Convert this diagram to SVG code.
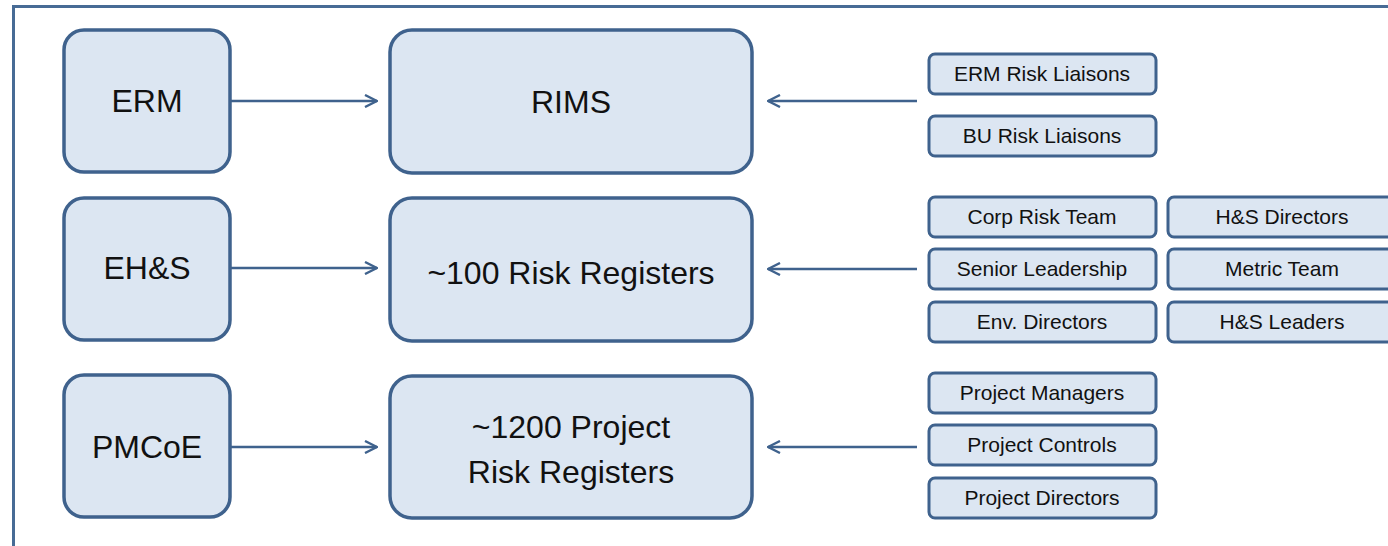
<svg xmlns="http://www.w3.org/2000/svg" width="1388" height="546" viewBox="0 0 1388 546">
<style>
.big{fill:#dce6f2;stroke:#3f628d;stroke-width:3.5}
.sm{fill:#dce6f2;stroke:#3f628d;stroke-width:3}
.t1{font-family:"Liberation Sans",Arial,sans-serif;font-size:32px;fill:#111;text-anchor:middle}
.t2{font-family:"Liberation Sans",Arial,sans-serif;font-size:21px;fill:#111;text-anchor:middle}
.c{stroke:#3f628d;stroke-width:2.5;fill:none}
</style>
<defs>
<marker id="ah" viewBox="0 0 14 14" refX="13" refY="7" markerWidth="14" markerHeight="14" markerUnits="userSpaceOnUse" orient="auto">
<path d="M1,1 L13,7 L1,13" fill="none" stroke="#3f628d" stroke-width="2.4"/>
</marker>
</defs>
<rect width="1388" height="546" fill="#fff"/>
<path d="M13.5,560 V6.5 H1400" fill="none" stroke="#476b95" stroke-width="3"/>
<g id="erm"><rect class="big" x="64" y="30" width="166" height="142" rx="20"/><text class="t1" x="147" y="112">ERM</text></g>
<g id="ehs"><rect class="big" x="64" y="198" width="166" height="142" rx="20"/><text class="t1" x="147" y="279">EH&amp;S</text></g>
<g id="pmcoe"><rect class="big" x="64" y="375" width="166" height="142" rx="20"/><text class="t1" x="147" y="458">PMCoE</text></g>
<g id="rims"><rect class="big" x="390" y="30" width="362" height="143" rx="22"/><text class="t1" x="571" y="113">RIMS</text></g>
<g id="rr100"><rect class="big" x="390" y="198" width="362" height="143" rx="22"/><text class="t1" x="571" y="284">~100 Risk Registers</text></g>
<g id="rr1200"><rect class="big" x="390" y="376" width="362" height="142" rx="22"/><text class="t1" x="571" y="438">~1200 Project</text><text class="t1" x="571" y="483">Risk Registers</text></g>
<g id="s1"><rect class="sm" x="929" y="54" width="227" height="40" rx="6"/><text class="t2" x="1042" y="81">ERM Risk Liaisons</text></g>
<g id="s2"><rect class="sm" x="929" y="116" width="227" height="40" rx="6"/><text class="t2" x="1042" y="143">BU Risk Liaisons</text></g>
<g id="s3"><rect class="sm" x="929" y="197" width="227" height="40" rx="6"/><text class="t2" x="1042" y="224">Corp Risk Team</text></g>
<g id="s4"><rect class="sm" x="929" y="249" width="227" height="40" rx="6"/><text class="t2" x="1042" y="276">Senior Leadership</text></g>
<g id="s5"><rect class="sm" x="929" y="302" width="227" height="40" rx="6"/><text class="t2" x="1042" y="329">Env. Directors</text></g>
<g id="s6"><rect class="sm" x="1168" y="197" width="240" height="40" rx="6"/><text class="t2" x="1282" y="224">H&amp;S Directors</text></g>
<g id="s7"><rect class="sm" x="1168" y="249" width="240" height="40" rx="6"/><text class="t2" x="1282" y="276">Metric Team</text></g>
<g id="s8"><rect class="sm" x="1168" y="302" width="240" height="40" rx="6"/><text class="t2" x="1282" y="329">H&amp;S Leaders</text></g>
<g id="s9"><rect class="sm" x="929" y="373" width="227" height="40" rx="6"/><text class="t2" x="1042" y="400">Project Managers</text></g>
<g id="s10"><rect class="sm" x="929" y="425" width="227" height="40" rx="6"/><text class="t2" x="1042" y="452">Project Controls</text></g>
<g id="s11"><rect class="sm" x="929" y="478" width="227" height="40" rx="6"/><text class="t2" x="1042" y="505">Project Directors</text></g>
<g id="connectors">
<path class="c" d="M231,101 H377" marker-end="url(#ah)"/>
<path class="c" d="M231,268 H377" marker-end="url(#ah)"/>
<path class="c" d="M231,447 H377" marker-end="url(#ah)"/>
<path class="c" d="M917,101 H768" marker-end="url(#ah)"/>
<path class="c" d="M917,269 H768" marker-end="url(#ah)"/>
<path class="c" d="M917,447 H768" marker-end="url(#ah)"/>
</g>
</svg>
